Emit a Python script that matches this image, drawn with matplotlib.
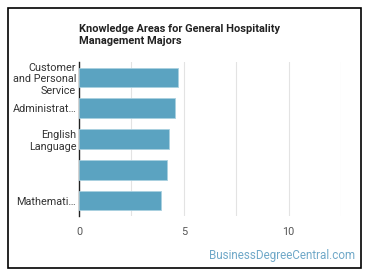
import matplotlib.pyplot as plt
from matplotlib.patches import Rectangle

plt.rcParams["font.family"] = ["Roboto", "DejaVu Sans"]

categories = ["Customer\nand Personal\nService", "Administrat\u2026", "English\nLanguage", "", "Mathemati\u2026"]
values = [4.7, 4.6, 4.3, 4.2, 3.9]
x_ticks = [0, 5, 10]
BAR_COLOR = "#5ba3c1"

fig = plt.figure(figsize=(3.7, 2.78), dpi=100)
ax = fig.add_axes([79 / 370, 1 - 216 / 278, (341 - 79) / 370, (216 - 62) / 278])

pos = list(range(len(categories)))
ax.barh(pos, values, height=0.64, color=BAR_COLOR, edgecolor="#a9d0e0", lw=0.6, zorder=3)
ax.set_ylim(len(categories) - 0.5, -0.5)
ax.set_yticks(pos)
ax.set_yticklabels(categories, fontsize=7.8, color="#333333", linespacing=1.2)
ax.set_xlim(0, 12.5)
ax.set_xticks(x_ticks)
ax.set_xticks([2.5, 7.5, 12.5], minor=True)
ax.tick_params(axis="x", which="both", length=0, pad=8, labelsize=7.8, labelcolor="#555555")
ax.tick_params(axis="y", length=0, pad=2)
ax.grid(axis="x", which="both", color="#e3e3e3", lw=0.8, zorder=0)
for s in ["top", "right", "bottom"]:
    ax.spines[s].set_visible(False)
ax.spines["left"].set_color("#222222")
ax.spines["left"].set_linewidth(1.0)

fig.text(79 / 370, 1 - 24 / 278, "Knowledge Areas for General Hospitality\nManagement Majors",
         fontsize=7.9, fontweight="bold", color="#222222", va="top", ha="left", linespacing=1.3)
fig.text(355 / 370, 1 - 256 / 278, "BusinessDegreeCentral.com", fontsize=8.4,
         color="#6fa8c8", ha="right", va="center")

fig.patches.append(Rectangle((8 / 370, 1 - 268 / 278), 353 / 370, 260 / 278,
                             transform=fig.transFigure, fill=False, ec="black", lw=1.2))

fig.savefig("out.png", dpi=100)
